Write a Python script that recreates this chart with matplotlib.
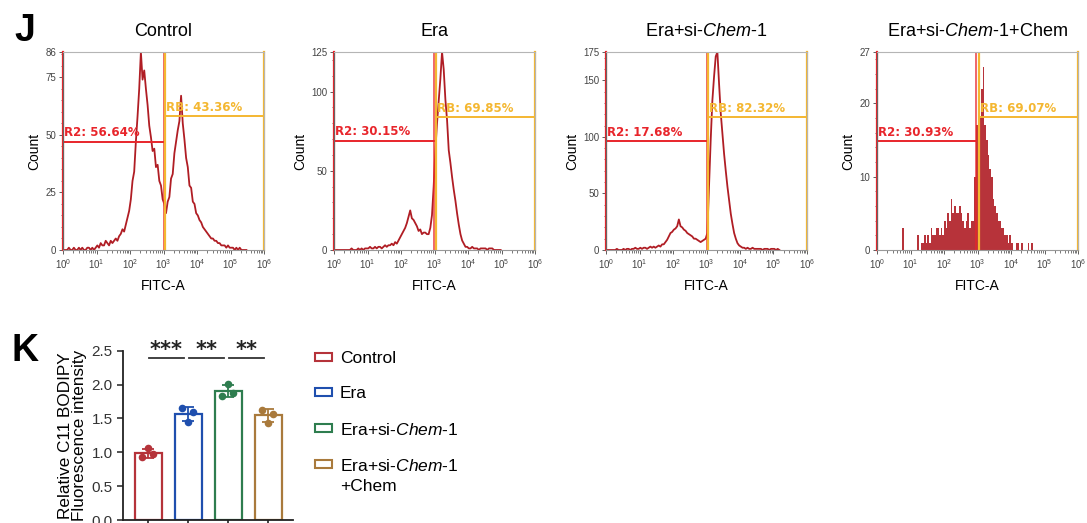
import numpy as np
import matplotlib.pyplot as plt
from matplotlib.patches import Rectangle
from matplotlib.ticker import MultipleLocator, FixedLocator, LogLocator, NullFormatter

plt.rcParams['font.family'] = ['Liberation Sans', 'DejaVu Sans']
plt.rcParams['mathtext.fontset'] = 'custom'
plt.rcParams['mathtext.rm'] = 'Liberation Sans'
plt.rcParams['mathtext.it'] = 'Liberation Sans:italic'

# ---- panel J: flow histograms (counts per 0.05-decade bin, starting at 10^0)
bin_step = 0.05
titles = ['Control', 'Era', 'Era+si-$\\it{Chem}$-1', 'Era+si-$\\it{Chem}$-1+Chem']

counts_control = [0, 0, 0, 1, 0, 0, 1, 0, 0, 1, 0, 1, 0, 0, 1, 1, 0, 1, 0, 1,
                  2, 1, 3, 2, 2, 4, 3, 2, 4, 3,
                  4, 5, 4, 6, 7, 9, 8, 11, 14, 17,
                  22, 30, 34, 47, 58, 70, 86, 74, 78, 70,
                  63, 54, 49, 43, 44, 36, 37, 30, 28, 22,
                  20, 16, 21, 23, 31, 33, 42, 47, 52, 56,
                  67, 55, 48, 40, 36, 28, 27, 21, 20, 16,
                  15, 13, 12, 10, 9, 8, 7, 6, 5, 5,
                  4, 4, 3, 3, 2, 2, 2, 1, 2, 1,
                  1, 1, 0, 1, 0, 1, 0, 0, 0, 0]
counts_era = [0, 0, 0, 0, 0, 0, 0, 0, 0, 0,
              1, 0, 0, 0, 1, 0, 1, 0, 1, 1,
              1, 2, 1, 1, 2, 1, 2, 2, 1, 2,
              3, 2, 3, 3, 4, 3, 5, 4, 6, 8,
              10, 12, 14, 17, 21, 25, 20, 19, 17, 15,
              12, 13, 10, 11, 11, 10, 10, 14, 22, 40,
              63, 80, 94, 108, 125, 114, 95, 82, 63, 55,
              46, 38, 31, 23, 16, 10, 6, 4, 2, 2,
              1, 1, 2, 1, 1, 1, 0, 1, 1, 1,
              1, 0, 1, 1, 1, 0, 0, 0, 0, 0]
counts_si = [0, 0, 0, 0, 0, 0, 1, 0, 0, 0,
             1, 0, 1, 1, 0, 1, 1, 2, 1, 1,
             2, 1, 2, 2, 1, 2, 3, 2, 3, 2,
             3, 4, 3, 5, 5, 7, 9, 12, 15, 16,
             18, 19, 21, 27, 21, 20, 18, 17, 15, 14,
             13, 12, 10, 10, 9, 8, 7, 8, 9, 10,
             15, 56, 97, 132, 153, 171, 175, 147, 121, 103,
             85, 70, 56, 44, 32, 23, 15, 10, 6, 4,
             3, 2, 2, 1, 2, 1, 1, 2, 1, 1,
             1, 1, 1, 0, 1, 1, 1, 0, 1, 1,
             1, 0, 1, 0]
counts_chem = [0, 0, 0, 0, 0, 0, 0, 0, 0, 0,
               0, 0, 0, 0, 0, 3, 0, 0, 0, 0,
               0, 0, 0, 0, 2, 0, 1, 1, 2, 1,
               2, 1, 3, 2, 2, 3, 3, 2, 3, 2,
               4, 3, 5, 4, 7, 5, 6, 5, 5, 6,
               5, 4, 3, 4, 5, 3, 4, 4, 10, 17,
               15, 18, 22, 25, 17, 15, 13, 11, 10, 7,
               6, 5, 4, 4, 3, 3, 2, 2, 1, 2,
               1, 0, 0, 1, 1, 0, 1, 0, 0, 0,
               1, 0, 1, 0, 0, 0, 0, 0, 0, 0]
hist_counts = [counts_control, counts_era, counts_si, counts_chem]

y_max = [86, 125, 175, 27]
y_major = [[0, 25, 50, 75], [0, 50, 100], [0, 50, 100, 150], [0, 10, 20]]
y_minor = [5, 10, 10, 2]

r2_pct = ['56.64%', '30.15%', '17.68%', '30.93%']
rb_pct = ['43.36%', '69.85%', '82.32%', '69.07%']
r2_level = [47, 69, 96, 14.8]
rb_level = [58, 84, 117.5, 18.1]
r2_end = [10 ** 3.0, 10 ** 2.99, 10 ** 3.02, 10 ** 2.96]
rb_start = [10 ** 3.04, 10 ** 3.03, 10 ** 3.03, 10 ** 3.04]

# ---- panel K: bar chart
groups = ['Control', 'Era', 'Era+si-$\\it{Chem}$-1', 'Era+si-$\\it{Chem}$-1\n+Chem']
replicates = [[0.93, 1.06, 0.97],
              [1.66, 1.45, 1.59],
              [1.83, 2.01, 1.88],
              [1.63, 1.43, 1.57]]
sig_pairs = [(0, 1), (1, 2), (2, 3)]
sig_marks = ['***', '**', '**']
bar_colors = ['#b5333a', '#1f4fae', '#2e7d4f', '#a97a3c']

hist_color = '#b01d24'
red_gate = '#e8252b'
yellow_gate = '#f4b731'
frame_gray = '#b5b5b5'

W, H = 1087, 523
fig = plt.figure(figsize=(W / 100, H / 100), dpi=100)

lefts = [63, 334, 606, 877]
for i in range(4):
    ax = fig.add_axes([lefts[i] / W, (H - 250) / H, 201 / W, 198 / H])
    c = np.array(hist_counts[i])
    edges = 10 ** (np.arange(len(c) + 1) * bin_step)
    if y_max[i] < 50:
        # low-count sample: looks like a filled spiky histogram
        ax.stairs(c, edges, color=hist_color, lw=0.9, fill=True, alpha=0.9)
    else:
        centers = 10 ** ((np.arange(len(c)) + 0.5) * bin_step)
        ax.plot(centers, c, color=hist_color, lw=1.3)
    ax.set_xscale('log')
    ax.set_xlim(1, 1e6)
    ax.set_ylim(0, y_max[i])
    ax.xaxis.set_major_locator(LogLocator(base=10, numticks=10))
    ax.xaxis.set_minor_locator(LogLocator(base=10, subs=np.arange(2, 10), numticks=20))
    ax.xaxis.set_minor_formatter(NullFormatter())
    ax.yaxis.set_major_locator(FixedLocator(y_major[i] + [y_max[i]]))
    ax.yaxis.set_minor_locator(MultipleLocator(y_minor[i]))
    ax.tick_params(which='both', labelsize=7, colors='#444', direction='out', pad=2)
    ax.tick_params(which='major', length=3, width=0.6)
    ax.tick_params(which='minor', length=1.8, width=0.5)
    for s in ax.spines.values():
        s.set_color(frame_gray)
        s.set_linewidth(0.8)
    ax.spines['left'].set_color('#666')
    ax.spines['bottom'].set_color('#999')

    top = y_max[i]
    # R2 gate
    ax.plot([1, 1], [0, top], color=red_gate, lw=1.6, clip_on=False)
    ax.plot([1, r2_end[i]], [r2_level[i]] * 2, color=red_gate, lw=1.4)
    ax.plot([r2_end[i]] * 2, [0, top], color=red_gate, lw=1.4, alpha=0.7)
    ax.text(1.08, r2_level[i] + top * 0.012, 'R2: ' + r2_pct[i], color=red_gate,
            fontsize=8.5, fontweight='bold', family='DejaVu Sans', va='bottom')
    # RB gate
    ax.plot([rb_start[i]] * 2, [0, top], color=yellow_gate, lw=1.6)
    ax.plot([1e6, 1e6], [0, top], color=yellow_gate, lw=1.6, clip_on=False)
    ax.plot([rb_start[i], 1e6], [rb_level[i]] * 2, color=yellow_gate, lw=1.4)
    ax.text(rb_start[i] * 1.08, rb_level[i] + top * 0.012, 'RB: ' + rb_pct[i],
            color=yellow_gate, fontsize=8.5, fontweight='bold', family='DejaVu Sans',
            va='bottom')

    ax.set_ylabel('Count', fontsize=10, labelpad=3)
    ax.set_xlabel('FITC-A', fontsize=10, labelpad=6)
    fig.text((lefts[i] + 100.5) / W, (H - 32) / H, titles[i], fontsize=13,
             ha='center', va='center')

fig.text(14 / W, (H - 31) / H, 'J', fontsize=27, fontweight='bold', va='center')
fig.text(12 / W, (H - 351) / H, 'K', fontsize=27, fontweight='bold', va='center')

# ---- panel K
axk = fig.add_axes([123 / W, 3 / H, 170 / W, 169.3 / H])
xpos = np.arange(len(groups))
means = [np.mean(r) for r in replicates]
sds = [np.std(r, ddof=1) for r in replicates]
offsets = [-0.14, 0.0, 0.13]
for i in range(len(groups)):
    axk.bar(xpos[i], means[i], width=0.675, facecolor='white',
            edgecolor=bar_colors[i], linewidth=1.6, zorder=2)
    axk.errorbar(xpos[i], means[i], yerr=sds[i], fmt='none', ecolor=bar_colors[i],
                 elinewidth=1.3, capsize=4.5, capthick=1.3, zorder=3)
    axk.scatter(xpos[i] + np.array(offsets), replicates[i], s=30,
                color=bar_colors[i], zorder=4, linewidths=0)
axk.set_xlim(-0.625, 3.625)
axk.set_ylim(0, 2.5)
axk.set_yticks(np.arange(0, 2.51, 0.5))
axk.set_yticklabels(['%.1f' % v for v in np.arange(0, 2.51, 0.5)])
axk.set_xticks(xpos)
axk.set_xticklabels([])
axk.tick_params(axis='y', labelsize=11, colors='#333', length=4, width=1.2)
axk.tick_params(axis='x', length=5, width=1.2, colors='#222')
for s in ['top', 'right']:
    axk.spines[s].set_visible(False)
for s in ['left', 'bottom']:
    axk.spines[s].set_linewidth(1.3)
    axk.spines[s].set_color('#222')
axk.set_ylabel('Relative C11 BODIPY\nFluorescence intensity', fontsize=12.3,
               labelpad=3, linespacing=0.95)

for (a, b), mark in zip(sig_pairs, sig_marks):
    axk.plot([a + 0.02, b - 0.1], [2.39, 2.39], color='#333', lw=1.3, clip_on=False)
    axk.text((a + b) / 2 - 0.04, 2.37, mark, ha='center', va='bottom', fontsize=15,
             fontweight='bold', family='DejaVu Sans', color='#222', clip_on=False)

# legend: outlined boxes, one row per group (last label wraps to two lines)
row_y = [357, 392, 428, 464]
for col, lab, yy in zip(bar_colors, groups, row_y):
    fig.add_artist(Rectangle((315 / W, (H - yy - 4) / H), 17 / W, 8 / H,
                             facecolor='white', edgecolor=col, linewidth=1.5,
                             transform=fig.transFigure))
    fig.text(340 / W, (H - yy + 6) / H, lab, fontsize=12.5, ha='left', va='top',
             linespacing=1.45)

fig.savefig('out.png', dpi=100)
